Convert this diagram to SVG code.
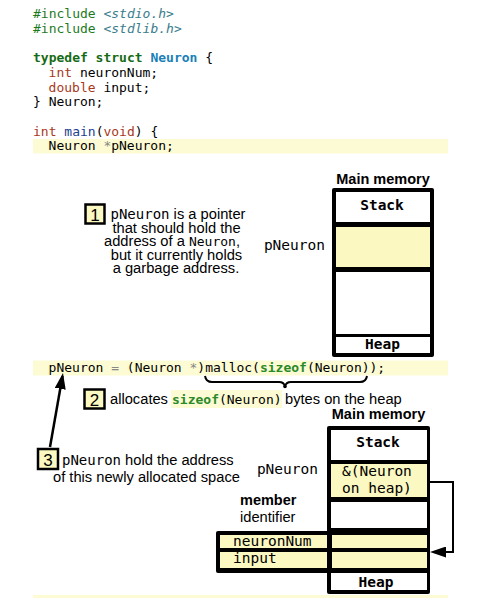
<svg xmlns="http://www.w3.org/2000/svg" width="484" height="598" viewBox="0 0 484 598">
<style>
.code{font-family:"DejaVu Sans Mono",monospace;font-size:13px;fill:#000}
.mono{font-family:"DejaVu Sans Mono",monospace}
.sans{font-family:"Liberation Sans",Arial,sans-serif;font-size:14.7px;fill:#000}
.hdr{font-family:"Liberation Sans",Arial,sans-serif;font-size:14.5px;font-weight:bold;fill:#000}
.cell{font-family:"DejaVu Sans Mono",monospace;font-size:14.5px;fill:#000}
.cellb{font-family:"DejaVu Sans Mono",monospace;font-size:14.5px;font-weight:bold;fill:#000}
.kw{fill:#1e7a1e}
.kwb{fill:#156a15;font-weight:bold}
.inc{fill:#3a7d8c;font-style:italic}
.typ{fill:#1a80b8;font-weight:bold}
.red{fill:#a8381c}
.fn{fill:#23408f}
.op{fill:#888}
.sz{fill:#2a8a2a;font-weight:bold}
.band{fill:#fdfbd3}
.yel{fill:#fcf8c2}
.wht{fill:#fff}
.blk{fill:#000}
.badge{fill:#fcf8c2;stroke:#000;stroke-width:2.5}
.num{font-family:"Liberation Sans",Arial,sans-serif;font-size:17px;fill:#000}
</style>
<defs>
<marker id="ah" markerUnits="userSpaceOnUse" markerWidth="16" markerHeight="11" refX="13" refY="5.5" orient="auto">
<path d="M0,0 L16,5.5 L0,11 z" fill="#000"/>
</marker>
</defs>

<g id="code">
<rect class="band" x="33" y="139" width="415" height="14.5"/>
<rect class="band" x="33" y="360.5" width="415" height="15"/>
<rect class="band" x="33" y="595" width="415" height="3"/>
<text class="code" x="33" y="18"><tspan class="kw">#include</tspan> <tspan class="inc">&lt;stdio.h&gt;</tspan></text>
<text class="code" x="33" y="32.7"><tspan class="kw">#include</tspan> <tspan class="inc">&lt;stdlib.h&gt;</tspan></text>
<text class="code" x="33" y="62.1"><tspan class="kwb">typedef struct</tspan> <tspan class="typ">Neuron</tspan> {</text>
<text class="code" x="48.6" y="76.8"><tspan class="red">int</tspan> neuronNum;</text>
<text class="code" x="48.6" y="91.5"><tspan class="red">double</tspan> input;</text>
<text class="code" x="33" y="106.2">} Neuron;</text>
<text class="code" x="33" y="135.6"><tspan class="red">int</tspan> <tspan class="fn">main</tspan>(<tspan class="red">void</tspan>) {</text>
<text class="code" x="48.6" y="150.3">Neuron <tspan class="op">*</tspan>pNeuron;</text>
<text class="code" x="48.6" y="372">pNeuron <tspan class="op">=</tspan> (Neuron <tspan class="op">*</tspan>)malloc(<tspan class="sz">sizeof</tspan>(Neuron));</text>
</g>

<g id="note1">
<rect class="badge" x="85.5" y="204.5" width="19" height="19"/>
<text class="num" x="95" y="220.5" text-anchor="middle">1</text>
<text class="sans" x="178" y="219" text-anchor="middle"><tspan class="mono" font-size="14px">pNeuron</tspan> is a pointer</text>
<text class="sans" x="176.5" y="232.5" text-anchor="middle">that should hold the</text>
<text class="sans" x="172" y="246" text-anchor="middle">address of a <tspan class="mono" font-size="13px">Neuron</tspan>,</text>
<text class="sans" x="176.5" y="259.5" text-anchor="middle">but it currently holds</text>
<text class="sans" x="176" y="273" text-anchor="middle">a garbage address.</text>
</g>

<g id="memory1">
<text class="hdr" x="383" y="184" text-anchor="middle">Main memory</text>
<rect class="blk" x="332" y="188" width="102" height="169" rx="2"/>
<rect class="wht" x="336" y="192" width="94" height="30"/>
<rect class="yel" x="336" y="227" width="94" height="40"/>
<rect class="wht" x="336" y="272" width="94" height="62"/>
<rect class="wht" x="336" y="337" width="94" height="16"/>
<text class="cellb" x="382" y="210" text-anchor="middle">Stack</text>
<text class="cellb" x="382.5" y="349" text-anchor="middle">Heap</text>
<text class="cell" x="325" y="250" text-anchor="end">pNeuron</text>
</g>

<g id="note2">
<rect class="badge" x="84.5" y="389.5" width="20" height="19"/>
<text class="num" x="94.5" y="405.5" text-anchor="middle">2</text>
<rect class="band" x="171" y="390" width="111" height="18"/>
<text class="sans" x="110" y="404">allocates </text>
<text class="code" x="172" y="404"><tspan class="sz">sizeof</tspan>(Neuron)</text>
<text class="sans" x="285" y="404">bytes on the heap</text>
</g>

<g id="note3">
<rect class="badge" x="38" y="449" width="20" height="20"/>
<text class="num" x="48" y="465.5" text-anchor="middle">3</text>
<text class="sans" x="62" y="465"><tspan class="mono" font-size="14px">pNeuron</tspan> hold the address</text>
<text class="sans" x="53" y="482">of this newly allocated space</text>
</g>

<g id="memory2">
<text class="hdr" x="378.5" y="419" text-anchor="middle">Main memory</text>
<rect class="blk" x="327" y="426" width="103" height="168" rx="2"/>
<rect class="blk" x="216" y="531" width="114" height="42" rx="2"/>
<rect class="wht" x="331" y="430" width="96" height="30"/>
<rect class="yel" x="331" y="464" width="96" height="33"/>
<rect class="wht" x="331" y="502" width="96" height="26"/>
<rect class="yel" x="220" y="535" width="107" height="13"/>
<rect class="yel" x="332" y="535" width="95" height="13"/>
<rect class="yel" x="220" y="552" width="107" height="16"/>
<rect class="yel" x="332" y="552" width="95" height="16"/>
<rect class="wht" x="331" y="573" width="96" height="17"/>
<text class="cellb" x="378" y="446.5" text-anchor="middle">Stack</text>
<text class="cell" x="342" y="476">&amp;(Neuron</text>
<text class="cell" x="342" y="493">on heap)</text>
<text class="cell" x="233" y="545.5">neuronNum</text>
<text class="cell" x="233" y="563">input</text>
<text class="cellb" x="376" y="587" text-anchor="middle">Heap</text>
<text class="cell" x="318" y="474" text-anchor="end">pNeuron</text>
<text class="hdr" x="240" y="505" font-size="14.5px">member</text>
<text class="sans" x="240" y="522">identifier</text>
</g>

<g id="connectors" fill="none" stroke="#000">
<path d="M205,376 Q206,382 212,382 L279,382 Q284,382 285,386.5 Q286,382 291,382 L360,382 Q366,382 367,376" stroke-width="2"/>
<circle cx="285" cy="386.5" r="1.8" fill="#000" stroke="none"/>
<line x1="50" y1="447" x2="62.5" y2="376" stroke-width="2.5" marker-end="url(#ah)"/>
<polyline points="430,482 453,482 453,552 433,552" stroke-width="2" marker-end="url(#ah)"/>
</g>
</svg>
